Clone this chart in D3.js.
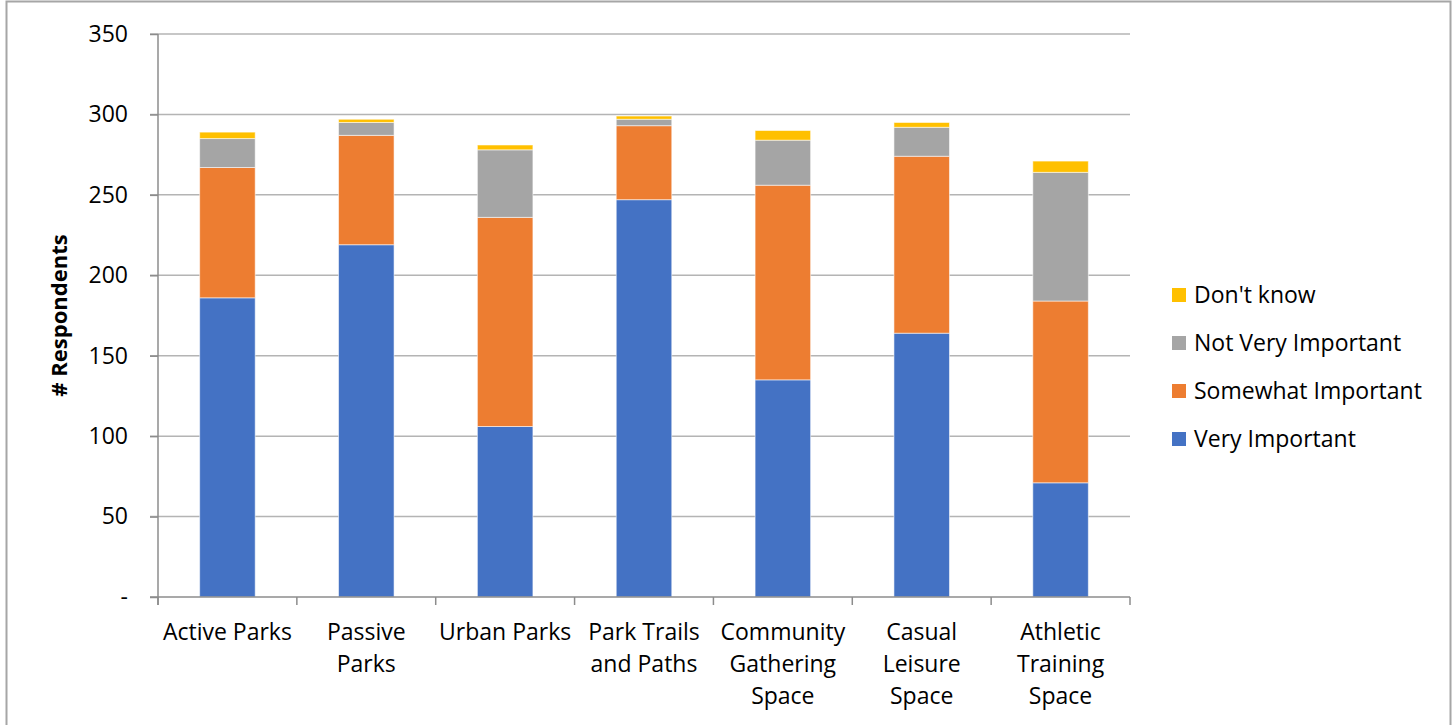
<!DOCTYPE html>
<html>
<head>
<meta charset="utf-8">
<script src="https://cdn.jsdelivr.net/npm/d3@7/dist/d3.min.js"></script>
<style>
  html, body { margin: 0; padding: 0; background: #fff; }
  svg { display: block; }
  text { font-family: "Open Sans", "Noto Sans", sans-serif; fill: #000; }
</style>
</head>
<body>
<svg id="chart" width="1456" height="725"></svg>
<script>
// Survey categories (x axis) and response counts per category
const categories = [
  ["Active Parks"],
  ["Passive", "Parks"],
  ["Urban Parks"],
  ["Park Trails", "and Paths"],
  ["Community", "Gathering", "Space"],
  ["Casual", "Leisure", "Space"],
  ["Athletic", "Training", "Space"]
];
const veryImportant     = [186, 219, 106, 247, 135, 164, 71];
const somewhatImportant = [81, 68, 130, 46, 121, 110, 113];
const notVeryImportant  = [18, 8, 42, 4, 28, 18, 80];
const dontKnow          = [4, 2, 3, 2, 6, 3, 7];

const seriesNames = ["Very Important", "Somewhat Important", "Not Very Important", "Don't know"];
const seriesColors = ["#4472C4", "#ED7D31", "#A5A5A5", "#FFC000"];
const yTicks = [0, 50, 100, 150, 200, 250, 300, 350];

const svg = d3.select("#chart");

// Outer chart frame
svg.append("rect")
  .attr("x", 6.5).attr("y", 1.5)
  .attr("width", 1444).attr("height", 740)
  .attr("fill", "none").attr("stroke", "#A6A6A6").attr("stroke-width", 2);

const plot = { left: 158, right: 1130, top: 34, bottom: 597 };

const keys = categories.map(c => c.join(" "));
const rows = keys.map((k, i) => ({
  key: k,
  "Very Important": veryImportant[i],
  "Somewhat Important": somewhatImportant[i],
  "Not Very Important": notVeryImportant[i],
  "Don't know": dontKnow[i]
}));

const x = d3.scaleBand().domain(keys).range([plot.left, plot.right]).paddingInner(0.6).paddingOuter(0.3);
const y = d3.scaleLinear().domain([0, 350]).range([plot.bottom, plot.top]);

// Horizontal gridlines
svg.append("g")
  .selectAll("line")
  .data(yTicks.filter(t => t > 0))
  .join("line")
  .attr("x1", plot.left - 8).attr("x2", plot.right)
  .attr("y1", d => y(d)).attr("y2", d => y(d))
  .attr("stroke", "#B4B4B4").attr("stroke-width", 1.5);

// Stacked bars
const stack = d3.stack().keys(seriesNames)(rows);
svg.append("g")
  .selectAll("g")
  .data(stack)
  .join("g")
  .attr("fill", (d, i) => seriesColors[i])
  .selectAll("rect")
  .data(d => d)
  .join("rect")
  .attr("x", d => x(d.data.key))
  .attr("width", x.bandwidth())
  .attr("y", d => y(d[1]))
  .attr("height", d => y(d[0]) - y(d[1]))
  .attr("stroke", "rgba(255,255,255,0.55)")
  .attr("stroke-width", 1);

// Y axis
const yAxis = svg.append("g").attr("transform", `translate(${plot.left},0)`)
  .call(d3.axisLeft(y).tickValues(yTicks).tickSize(8).tickPadding(22)
    .tickFormat(d => d === 0 ? "-" : d));
yAxis.select(".domain").attr("stroke", "#8C8C8C").attr("stroke-width", 1.5)
  .attr("d", `M0,${plot.top}V${plot.bottom + 8}`);
yAxis.selectAll(".tick line").attr("stroke", "#8C8C8C").attr("stroke-width", 1.5);
yAxis.selectAll(".tick text").style("font-size", "23px").attr("fill", "#000");

// X axis with category separators
const bounds = keys.map(k => x(k) - x.step() * x.paddingInner() / 2);
bounds.push(plot.right);
const xg = svg.append("g");
xg.append("line")
  .attr("x1", plot.left - 8).attr("x2", plot.right)
  .attr("y1", plot.bottom).attr("y2", plot.bottom)
  .attr("stroke", "#8C8C8C").attr("stroke-width", 1.5);
xg.selectAll("line.sep")
  .data(bounds)
  .join("line").attr("class", "sep")
  .attr("x1", d => d).attr("x2", d => d)
  .attr("y1", plot.bottom).attr("y2", plot.bottom + 8)
  .attr("stroke", "#8C8C8C").attr("stroke-width", 1.5);

const labels = xg.selectAll("text.cat")
  .data(categories)
  .join("text").attr("class", "cat")
  .attr("x", (d, i) => x(keys[i]) + x.bandwidth() / 2)
  .attr("y", 640)
  .attr("text-anchor", "middle")
  .style("font-size", "23px");
labels.selectAll("tspan")
  .data(d => d)
  .join("tspan")
  .attr("x", function() { return d3.select(this.parentNode).attr("x"); })
  .attr("dy", (d, i) => i === 0 ? 0 : 32)
  .text(d => d);

// Y axis title
svg.append("text")
  .attr("transform", `translate(67,${(plot.top + plot.bottom) / 2}) rotate(-90)`)
  .attr("text-anchor", "middle")
  .style("font-size", "22px").style("font-weight", "bold")
  .text("# Respondents");

// Legend (top to bottom: reverse stack order)
const legendItems = seriesNames.map((n, i) => ({ name: n, color: seriesColors[i] })).reverse();
const legend = svg.append("g").attr("transform", "translate(1172,295)");
const li = legend.selectAll("g").data(legendItems).join("g")
  .attr("transform", (d, i) => `translate(0,${i * 48})`);
li.append("rect").attr("x", 0).attr("y", -7).attr("width", 14).attr("height", 14)
  .attr("fill", d => d.color);
li.append("text").attr("x", 22).attr("y", 8)
  .style("font-size", "23px")
  .text(d => d.name);
</script>
</body>
</html>
